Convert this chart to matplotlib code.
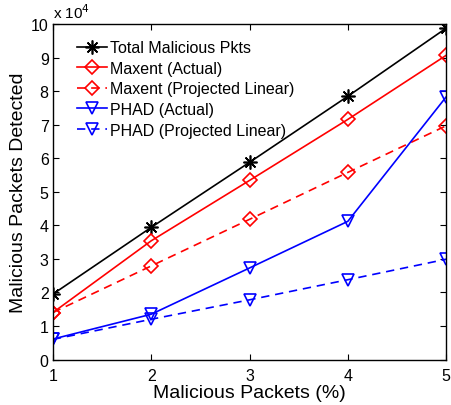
import matplotlib.pyplot as plt
from matplotlib.ticker import FuncFormatter

plt.rcParams['font.family'] = ['Liberation Sans', 'DejaVu Sans']

pct = [1, 2, 3, 4, 5]
total_pkts = [19500, 39400, 58800, 78500, 98800]
maxent_actual = [14000, 35400, 53400, 71600, 90700]
maxent_linear = [14000, 27900, 41800, 55800, 69700]
phad_actual = [6100, 13500, 27300, 41200, 78300]
phad_linear = [6000, 12000, 17800, 23800, 29900]

fig = plt.figure(figsize=(4.52, 4.06), dpi=100)
ax = fig.add_axes([0.117, 0.112, 0.870, 0.826])

dash = (0, (5, 3.5))
ax.plot(pct, total_pkts, color='black', lw=1.2, marker=(8, 2, 0), ms=10,
        mew=1.2, label='Total Malicious Pkts')
ax.plot(pct, maxent_actual, color='red', lw=1.2, marker='D', ms=7.5,
        mfc='none', mew=1.2, label='Maxent (Actual)')
ax.plot(pct, maxent_linear, color='red', lw=1.2, ls=dash, marker='D', ms=7.5,
        mfc='none', mew=1.2, label='Maxent (Projected Linear)')
ax.plot(pct, phad_actual, color='blue', lw=1.2, marker='v', ms=9,
        mfc='none', mew=1.2, label='PHAD (Actual)')
ax.plot(pct, phad_linear, color='blue', lw=1.2, ls=dash, marker='v', ms=9,
        mfc='none', mew=1.2, label='PHAD (Projected Linear)')

ax.set_xlim(1, 5)
ax.set_ylim(0, 100000)
ax.set_xticks(pct)
ax.set_yticks(range(0, 100001, 10000))
ax.yaxis.set_major_formatter(FuncFormatter(lambda v, p: '%g' % (v / 1e4)))
ax.tick_params(direction='in', top=True, right=True, labelsize=11.5, length=4)
ax.tick_params(axis='x', pad=6)
ax.tick_params(axis='y', pad=3)
for s in ax.spines.values():
    s.set_linewidth(1.0)
ax.text(0.0, 1.008, 'x 10$^4$', transform=ax.transAxes, fontsize=11,
        ha='left', va='bottom')

ax.set_xlabel('Malicious Packets (%)', fontsize=14, labelpad=1)
ax.set_ylabel('Malicious Packets Detected', fontsize=14, labelpad=3)

ax.legend(loc='upper left', fontsize=11.5, frameon=False, handlelength=1.9,
          handletextpad=0.2, labelspacing=0.35, borderaxespad=0.6,
          bbox_to_anchor=(0.02, 1.0))

fig.savefig('out.png', dpi=100)
